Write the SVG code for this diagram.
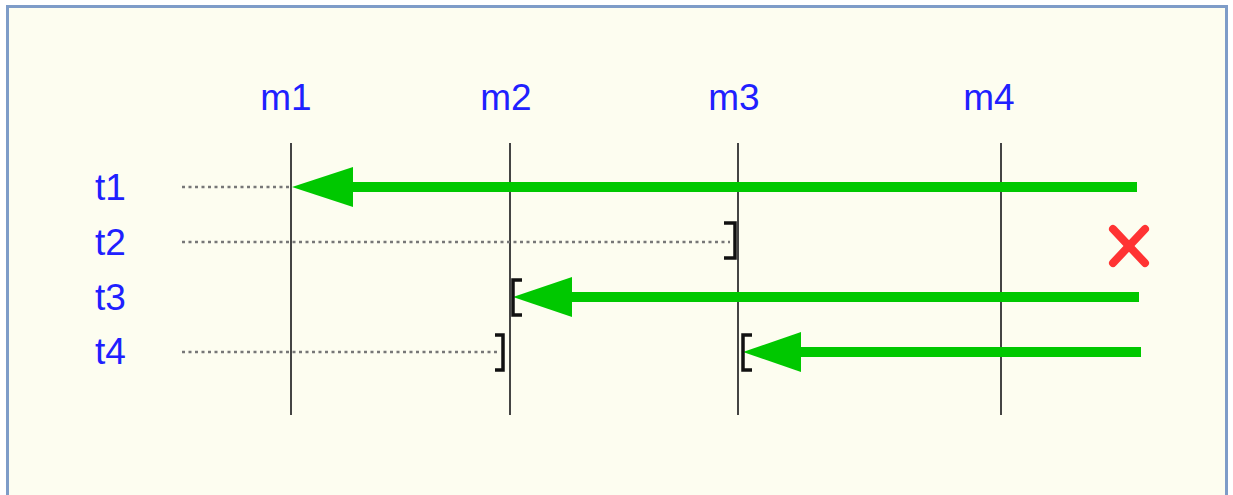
<svg xmlns="http://www.w3.org/2000/svg" width="1233" height="495" viewBox="0 0 1233 495">
<style>
.lbl{font-family:"Liberation Sans",Arial,sans-serif;font-size:37px;fill:#2020ff}
.life{stroke:#444;stroke-width:2}
.dot{stroke:#777;stroke-width:2.5;stroke-dasharray:3 3.5}
.arr{stroke:#00c800;stroke-width:10}
.head{fill:#00c800}
.br{fill:none;stroke:#111;stroke-width:3.5}
</style>
<rect x="0" y="0" width="1233" height="495" fill="#ffffff"/>
<rect x="7.5" y="6.5" width="1219" height="500" fill="#fdfdf0" stroke="#7e9cc8" stroke-width="3"/>
<g id="m1"><text class="lbl" x="286" y="110" text-anchor="middle">m1</text><line class="life" x1="291" y1="143" x2="291" y2="415"/></g>
<g id="m2"><text class="lbl" x="506" y="110" text-anchor="middle">m2</text><line class="life" x1="510" y1="143" x2="510" y2="415"/></g>
<g id="m3"><text class="lbl" x="734" y="110" text-anchor="middle">m3</text><line class="life" x1="738" y1="143" x2="738" y2="415"/></g>
<g id="m4"><text class="lbl" x="989" y="110" text-anchor="middle">m4</text><line class="life" x1="1001" y1="143" x2="1001" y2="415"/></g>
<g id="t1"><text class="lbl" x="95" y="200">t1</text></g>
<g id="t2"><text class="lbl" x="95" y="255">t2</text></g>
<g id="t3"><text class="lbl" x="95" y="310">t3</text></g>
<g id="t4"><text class="lbl" x="95" y="364">t4</text></g>
<g id="connectors">
<line class="dot" x1="182" y1="187" x2="290" y2="187"/>
<line class="dot" x1="182" y1="242" x2="730" y2="242"/>
<line class="dot" x1="182" y1="352" x2="500" y2="352"/>
<line class="arr" x1="350" y1="187" x2="1137" y2="187"/>
<polygon class="head" points="292,187 353,167 353,207"/>
<line class="arr" x1="570" y1="297" x2="1139" y2="297"/>
<polygon class="head" points="513,297 572,277 572,317"/>
<line class="arr" x1="798" y1="352" x2="1141" y2="352"/>
<polygon class="head" points="743,352 801,332 801,372"/>
<path class="br" d="M724,223 H735 V258 H724"/>
<path class="br" d="M522,280 H513 V315 H522"/>
<path class="br" d="M495,335 H503 V370 H495"/>
<path class="br" d="M752,335 H743 V370 H752"/>
</g>
<g id="cross" stroke="#ff3333" stroke-width="8" stroke-linecap="round">
<line x1="1113" y1="229" x2="1145" y2="263"/>
<line x1="1145" y1="229" x2="1113" y2="263"/>
</g>
</svg>
